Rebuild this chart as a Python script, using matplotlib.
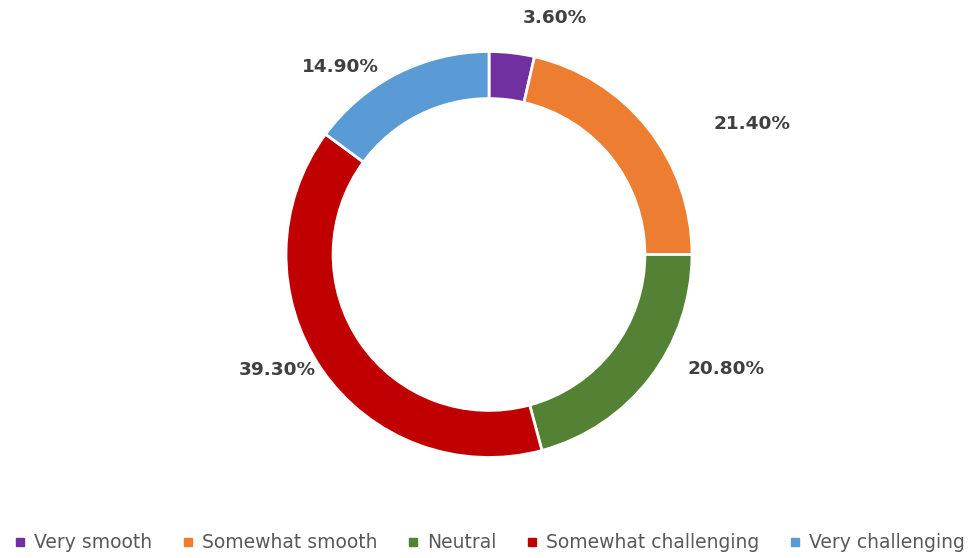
import matplotlib.pyplot as plt
from matplotlib.lines import Line2D

# survey answers
categories = ['Very smooth', 'Somewhat smooth', 'Neutral',
              'Somewhat challenging', 'Very challenging']
shares = [3.6, 21.4, 20.8, 39.3, 14.9]
colors = ['#7030A0', '#ED7D31', '#548235', '#C00000', '#5B9BD5']

W, H = 979, 558
cx, cy, R = 489, H - 254.5, 203   # ring in pixel units, y up

# where each percentage label sits (pixel coords, y measured from top)
label_xy = [(555, 18), (752, 124), (726, 369), (277, 370), (340, 67)]

fig = plt.figure(figsize=(W / 100, H / 100), dpi=100)
ax = fig.add_axes([0, 0, 1, 1])

ax.pie(shares, colors=colors, startangle=90, counterclock=False,
       center=(cx, cy), radius=R, frame=True,
       wedgeprops=dict(width=R * 0.232, edgecolor='white', linewidth=2))
ax.set_xlim(0, W)
ax.set_ylim(0, H)
ax.set_aspect('equal')
ax.axis('off')

for v, (lx, ly) in zip(shares, label_xy):
    ax.text(lx, H - ly, f'{v:.2f}%', ha='center', va='center',
            fontsize=13.3, fontweight='bold', color='#404040',
            family='DejaVu Sans')

handles = [Line2D([], [], marker='s', linestyle='none', markersize=6,
                  markerfacecolor=c, markeredgecolor=c) for c in colors]
fig.legend(handles, categories, loc='center', bbox_to_anchor=(0.5, 1 - 543 / H),
           ncol=5, frameon=False, handlelength=0.6, handletextpad=0.45,
           columnspacing=1.6, prop=dict(family='DejaVu Sans', size=13.5),
           labelcolor='#595959')

fig.savefig('out.png', dpi=100)
